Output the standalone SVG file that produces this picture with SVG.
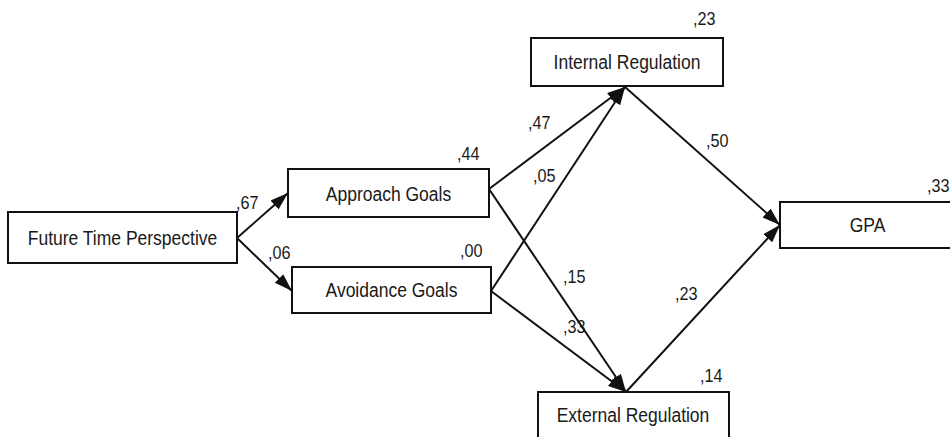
<svg xmlns="http://www.w3.org/2000/svg" width="950" height="437" viewBox="0 0 950 437">
<style>
.box{fill:#fff;stroke:#111;stroke-width:2}
.nt{font-family:"Liberation Sans",Arial,sans-serif;font-size:20px;fill:#1a1a1a;text-anchor:middle}
.lb{font-family:"Liberation Sans",Arial,sans-serif;font-size:18px;fill:#1a1a1a}
.ed{stroke:#111;stroke-width:2;fill:none;marker-end:url(#ah)}
</style>
<defs>
<marker id="ah" markerUnits="userSpaceOnUse" markerWidth="20" markerHeight="14" refX="18" refY="6" orient="auto">
<path d="M0,0 L18,6 L0,12 z" fill="#111"/>
</marker>
</defs>
<rect width="950" height="437" fill="#fff"/>
<g id="connectors">
<line class="ed" x1="237" y1="238" x2="288" y2="193"/>
<line class="ed" x1="237" y1="238" x2="292" y2="291"/>
<line class="ed" x1="489" y1="189" x2="625" y2="87"/>
<line class="ed" x1="491" y1="291" x2="625" y2="87"/>
<line class="ed" x1="489" y1="189" x2="626" y2="392"/>
<line class="ed" x1="491" y1="291" x2="626" y2="392"/>
<line class="ed" x1="625" y1="87" x2="780" y2="225"/>
<line class="ed" x1="626" y1="392" x2="780" y2="225"/>
</g>
<g id="labels">
<text class="lb" transform="translate(236,209) scale(0.9,1)">,67</text>
<text class="lb" transform="translate(268,259) scale(0.9,1)">,06</text>
<text class="lb" transform="translate(457,160) scale(0.9,1)">,44</text>
<text class="lb" transform="translate(460,257) scale(0.9,1)">,00</text>
<text class="lb" transform="translate(528,129) scale(0.9,1)">,47</text>
<text class="lb" transform="translate(533,182) scale(0.9,1)">,05</text>
<text class="lb" transform="translate(563,283) scale(0.9,1)">,15</text>
<text class="lb" transform="translate(563,333) scale(0.9,1)">,33</text>
<text class="lb" transform="translate(693,25) scale(0.9,1)">,23</text>
<text class="lb" transform="translate(706,147) scale(0.9,1)">,50</text>
<text class="lb" transform="translate(927,192) scale(0.9,1)">,33</text>
<text class="lb" transform="translate(675,300) scale(0.9,1)">,23</text>
<text class="lb" transform="translate(700,382) scale(0.9,1)">,14</text>
</g>
<g id="ftp">
<rect class="box" x="8" y="212" width="229" height="51"/>
<text class="nt" transform="translate(122.5,245) scale(0.875,1)">Future Time Perspective</text>
</g>
<g id="approach">
<rect class="box" x="288" y="169" width="201" height="48"/>
<text class="nt" transform="translate(388.5,201) scale(0.875,1)">Approach Goals</text>
</g>
<g id="avoidance">
<rect class="box" x="292" y="267" width="199" height="46"/>
<text class="nt" transform="translate(391.5,297) scale(0.875,1)">Avoidance Goals</text>
</g>
<g id="internal">
<rect class="box" x="531" y="38" width="192" height="48"/>
<text class="nt" transform="translate(627,68.5) scale(0.875,1)">Internal Regulation</text>
</g>
<g id="external">
<rect class="box" x="538" y="392" width="191" height="50"/>
<text class="nt" transform="translate(633,422) scale(0.875,1)">External Regulation</text>
</g>
<g id="gpa">
<rect class="box" x="780" y="202" width="175" height="46"/>
<text class="nt" transform="translate(867.5,232) scale(0.875,1)">GPA</text>
</g>
</svg>
